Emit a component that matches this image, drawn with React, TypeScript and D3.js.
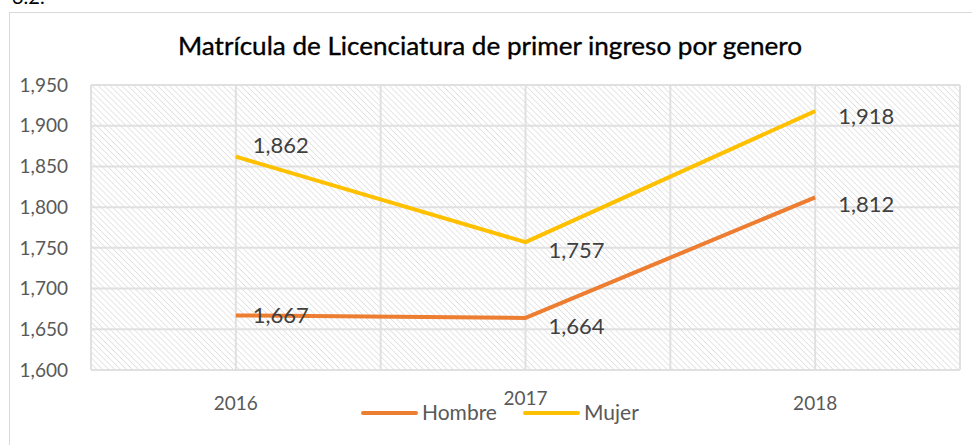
import React from "react";
import * as d3 from "d3";

const categories = ["2016", "2017", "2018"];
const hombre = [1667, 1664, 1812];
const mujer = [1862, 1757, 1918];
const yTicks = [1600, 1650, 1700, 1750, 1800, 1850, 1900, 1950];
const seriesNames = ["Hombre", "Mujer"];
const title = "Matrícula de Licenciatura de primer ingreso por genero";

// label offsets (layout only): [dx, dy] relative to point
const hombreLabelOff = [[17, 8], [23, 16], [23, 15]];
const mujerLabelOff = [[17, -4], [23, 16], [23, 13]];

const W = 972, H = 445;
const plot = { left: 91, right: 960, top: 85, bottom: 370 };
const colors = { Hombre: "#ED7D31", Mujer: "#FFC000" };
const font = "Lato, 'Open Sans', sans-serif";

export default function App() {
  const x = d3.scaleBand<string>().domain(categories).range([plot.left, plot.right]).padding(0);
  const cx = (c: string) => (x(c) as number) + x.bandwidth() / 2;
  const y = d3.scaleLinear().domain([1600, 1950]).range([plot.bottom, plot.top]);
  const line = d3.line<number>().x((_, i) => cx(categories[i])).y((d) => y(d));
  const fmt = d3.format(",");

  const vLines: number[] = [];
  categories.forEach((c) => {
    vLines.push(x(c) as number);
    vLines.push(cx(c));
  });
  vLines.push(plot.right);

  const series = [
    { name: "Hombre", values: hombre, off: hombreLabelOff },
    { name: "Mujer", values: mujer, off: mujerLabelOff },
  ];

  return (
    <div style={{ position: "absolute", left: 0, top: 0, width: W, height: H, background: "#fff" }}>
      <svg width={W} height={H} style={{ display: "block" }}>
        <defs>
          <pattern id="hatch" patternUnits="userSpaceOnUse" width="4.2" height="4.2" patternTransform="rotate(-45)">
            <line x1="0" y1="0" x2="0" y2="4.2" stroke="#dedede" strokeWidth="1.5" />
          </pattern>
        </defs>
        <text x={12} y={4} fontFamily={font} fontSize={20} fill="#000">3.2.</text>
        <rect x={9.5} y={12.5} width={W} height={H} fill="#fff" stroke="#d9d9d9" strokeWidth={1} />
        <text x={490} y={55} textAnchor="middle" fontFamily={font} fontSize={25} fill="#000"
          stroke="#000" strokeWidth={0.35}
          textLength={624} lengthAdjust="spacingAndGlyphs">
          {title}
        </text>
        <rect x={plot.left} y={plot.top} width={plot.right - plot.left} height={plot.bottom - plot.top} fill="url(#hatch)" />
        {yTicks.map((t) => (
          <g key={t}>
            <line x1={plot.left} x2={plot.right} y1={y(t)} y2={y(t)} stroke="#e0e0e0" strokeWidth={2} />
            <text x={68} y={y(t)} dy="0.35em" textAnchor="end" fontFamily={font} fontSize={19} fill="#595959">
              {fmt(t)}
            </text>
          </g>
        ))}
        {vLines.map((v, i) => (
          <line key={i} x1={v} x2={v} y1={plot.top} y2={plot.bottom} stroke="#e0e0e0" strokeWidth={2} />
        ))}
        {categories.map((c) => (
          <text key={c} x={cx(c)} y={c === "2017" ? 405 : 410} textAnchor="middle" fontFamily={font} fontSize={19} fill="#595959">
            {c}
          </text>
        ))}
        {series.map((s) => (
          <path key={s.name} d={line(s.values) as string} fill="none" stroke={(colors as any)[s.name]} strokeWidth={4} strokeLinejoin="round" />
        ))}
        {series.map((s) =>
          s.values.map((v, i) => (
            <text key={s.name + i} x={cx(categories[i]) + s.off[i][0]} y={y(v) + s.off[i][1]} fontFamily={font} fontSize={22} fill="#404040">
              {fmt(v)}
            </text>
          ))
        )}
        {seriesNames.map((n, i) => {
          const lx = i === 0 ? 363 : 525;
          return (
            <g key={n}>
              <line x1={lx} x2={lx + 53} y1={413} y2={413} stroke={(colors as any)[n]} strokeWidth={4} strokeLinecap="round" />
              <text x={lx + 59} y={420} fontFamily={font} fontSize={21} fill="#595959">{n}</text>
            </g>
          );
        })}
      </svg>
    </div>
  );
}
